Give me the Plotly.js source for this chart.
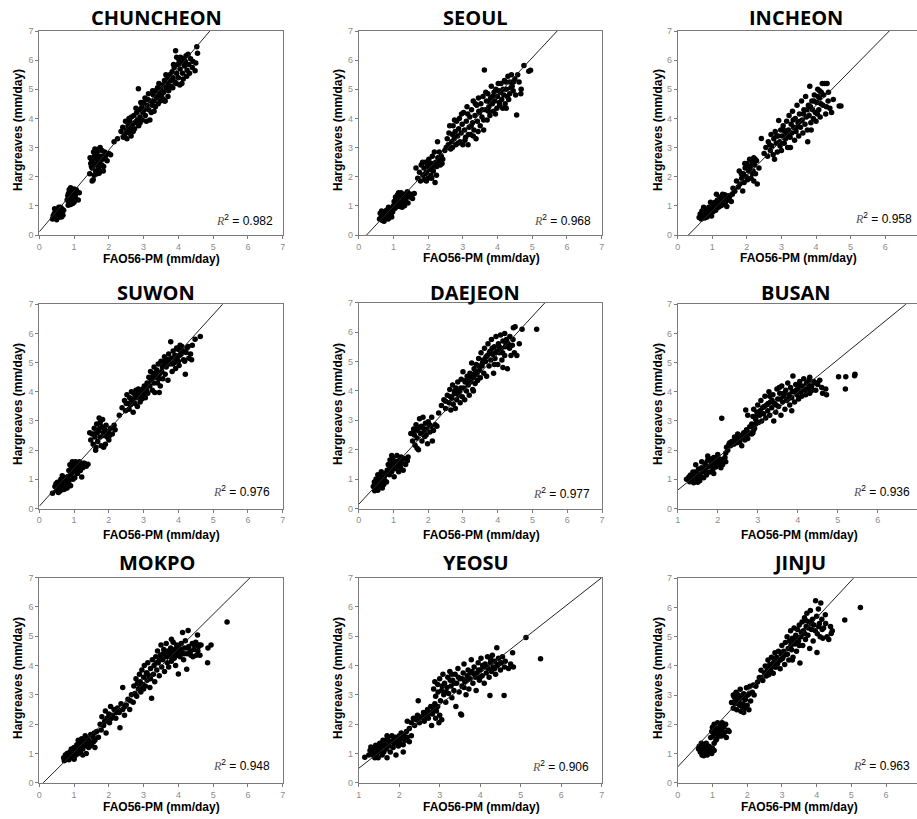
<!DOCTYPE html>
<html>
<head>
<meta charset="utf-8">
<script src="https://cdn.plot.ly/plotly-3.0.1.min.js"></script>
<style>html,body{margin:0;padding:0;background:#fff;}#chart{width:917px;height:819px;}</style>
</head>
<body>
<div id="chart"></div>
<script>
// ---------------- DATA ----------------
const stations = ['CHUNCHEON','SEOUL','INCHEON','SUWON','DAEJEON','BUSAN','MOKPO','YEOSU','JINJU'];
const r2Values = ['0.982','0.968','0.958','0.976','0.977','0.936','0.948','0.906','0.963'];
const fitSlopes = [1.405, 1.275, 1.205, 1.313, 1.28, 1.118, 1.177, 1.085, 1.277];
const fitIntercepts = [0.11, -0.29, -0.373, 0.08, 0.14, -0.49, -0.135, -0.595, 0.54];
const xAxisTitle = 'FAO56-PM (mm/day)';
const yAxisTitle = 'Hargreaves (mm/day)';

const chuncheonPts = [[0.38,0.55],[0.42,0.62],[0.45,0.58],[0.48,0.7],[0.5,0.65],[0.52,0.78],[0.55,0.72],[0.57,0.85],[0.6,0.7],[0.62,0.8],[0.65,0.9],[0.47,0.82],[0.53,0.6],[0.58,0.62],[0.66,0.75],[0.7,0.85],[0.43,0.74],[0.61,0.95],[0.68,0.68],[0.4,0.66],
[0.8,1.2],[0.82,1.35],[0.85,1.1],[0.87,1.45],[0.88,1.28],[0.9,1.05],[0.92,1.38],[0.93,1.52],[0.95,1.2],[0.97,1.32],[0.98,1.45],[1.0,1.12],[1.02,1.3],[1.04,1.4],[0.86,1.55],[0.9,1.62],[1.0,1.58],[1.05,1.25],[1.15,1.45],[0.83,1.02],[1.08,1.5],
[1.45,2.1],[1.48,2.45],[1.5,2.6],[1.52,2.3],[1.55,2.55],[1.55,1.9],[1.58,2.7],[1.6,2.4],[1.6,2.95],[1.62,2.2],[1.64,2.6],[1.66,2.8],[1.68,2.45],[1.7,2.3],[1.7,2.65],[1.72,2.95],[1.74,2.5],[1.76,2.2],[1.78,2.7],[1.8,2.4],[1.82,2.6],[1.85,2.35],[1.52,1.85],[1.58,2.05],[1.66,2.1],[1.9,2.7],[1.95,2.55],[2.0,2.8],[2.05,2.75],[1.88,2.85],[2.15,3.2],[1.75,3.0],
[2.25,3.3],[2.35,3.55],[2.4,3.7],[2.45,3.45],[2.48,3.9],[2.5,3.6],[2.55,3.75],[2.58,3.5],[2.6,3.9],[2.62,3.65],[2.65,4.05],[2.68,3.8],[2.7,3.55],[2.72,4.1],[2.75,3.85],
[2.8,4.2],[2.82,3.95],[2.85,5.02],[2.88,4.3],[2.9,4.05],[2.95,4.4],[2.98,4.2],[3.0,4.55],[3.02,4.3],[3.05,4.1],[3.1,4.45],[3.12,4.65],[3.15,4.3],[3.18,3.95],[3.2,4.6],[3.25,4.45],[3.28,4.8],
[3.3,4.6],[3.35,4.95],[3.38,4.7],[3.4,5.05],[3.42,4.5],[3.45,4.85],[3.5,5.0],[3.52,4.75],[3.55,5.15],[3.58,4.9],[3.6,5.3],[3.62,4.6],[3.65,5.05],[3.68,5.4],[3.7,5.2],[3.72,4.95],[3.75,5.5],[3.78,5.3],
[3.8,5.1],[3.82,5.6],[3.85,5.4],[3.88,5.75],[3.9,5.25],[3.92,6.32],[3.95,5.55],[3.98,5.85],[4.0,5.4],[4.02,6.0],[4.05,5.7],[4.08,5.9],[4.1,5.2],[4.12,5.55],[4.15,6.05],[4.18,5.8],[4.2,5.95],[4.25,5.65],[4.3,5.85],[4.35,6.05],[4.4,5.75],[4.48,5.64],[4.53,6.46],[4.55,6.24],[3.95,6.1],[4.22,6.15],[3.3,4.25],[3.6,4.6],[2.9,3.85],
[2.42,3.35],[2.52,3.3],[2.58,4.0],[2.64,3.4],[2.74,3.65],[2.78,4.35],[2.86,3.75],[2.92,4.55],[2.96,3.95],[3.04,4.7],[3.08,3.9],[3.14,4.85],[3.22,4.2],[3.26,4.95],[3.34,4.4],[3.4,4.75],[3.44,5.2],[3.48,4.6],[3.56,4.65],[3.64,5.5],[3.7,4.75],[3.76,5.05],[3.84,5.05],[3.86,5.85],[3.94,5.2],[4.04,5.15],[4.06,6.1],[4.14,5.35],[4.24,5.45],[4.28,6.2],[4.32,5.55],[4.42,5.95],[4.5,5.9],[0.44,0.9],[0.56,0.95],[0.64,0.62],[0.5,0.52],[0.84,1.42],[0.96,1.08],[1.06,1.55],[1.12,1.2],[1.56,2.85],[1.62,2.65],[1.68,2.9],[1.72,2.12],[1.8,2.9],[1.84,2.2],[1.5,2.35],[1.46,2.65]];

const seoulPts = [[0.6,0.55],[0.62,0.75],[0.65,0.62],[0.68,0.5],[0.7,0.68],[0.72,0.8],[0.75,0.58],[0.78,0.72],[0.8,0.85],[0.82,0.65],[0.85,0.55],[0.88,0.78],[0.9,0.7],[0.92,0.88],[0.95,0.62],[0.98,0.8],[0.73,0.47],[0.86,0.95],[0.66,0.82],
[1.0,1.0],[1.02,1.15],[1.05,0.92],[1.08,1.25],[1.1,1.05],[1.12,1.38],[1.15,1.15],[1.18,0.98],[1.2,1.3],[1.22,1.45],[1.25,1.1],[1.28,1.25],[1.3,1.4],[1.32,1.0],[1.35,1.2],[1.38,1.35],[1.4,1.48],[1.42,1.1],[1.45,1.3],[1.5,1.4],[1.55,1.25],[1.6,1.42],[1.15,1.45],[1.25,0.95],
[1.65,2.3],[1.7,1.95],[1.75,2.15],[1.78,1.85],[1.8,2.4],[1.85,2.05],[1.88,2.3],[1.9,1.9],[1.92,2.5],[1.95,2.15],[1.98,2.35],[2.0,1.95],[2.02,2.6],[2.05,2.25],[2.08,2.05],[2.1,2.45],[2.12,2.7],[2.15,2.2],[2.18,2.85],[2.2,1.8],[2.22,2.5],[2.25,2.35],[2.28,2.65],[2.3,2.55],[2.35,2.4],[2.38,2.7],[2.42,2.6],[2.48,2.9],[2.27,3.2],[1.95,1.85],[2.1,1.95],
[2.52,3.0],[2.55,3.3],[2.6,3.5],[2.65,2.95],[2.68,3.2],[2.7,3.45],[2.72,3.75],[2.75,3.3],[2.78,3.55],[2.8,3.1],[2.82,3.9],[2.85,3.4],[2.88,3.65],[2.9,4.0],[2.92,3.2],[2.95,3.5],[2.98,3.8],[2.7,3.0],
[3.0,3.1],[3.02,4.2],[3.05,3.6],[3.08,3.35],[3.1,3.9],[3.12,4.4],[3.15,3.1],[3.18,3.7],[3.2,4.05],[3.22,3.45],[3.25,4.3],[3.28,3.85],[3.3,4.6],[3.32,3.6],[3.35,4.1],[3.38,3.3],[3.4,4.45],[3.42,3.9],[3.45,4.7],[3.48,4.2],[3.5,3.75],
[3.52,4.5],[3.55,4.05],[3.58,4.75],[3.6,3.6],[3.62,5.66],[3.65,4.3],[3.68,4.6],[3.7,3.95],[3.72,4.85],[3.75,4.4],[3.78,4.1],[3.8,4.7],[3.82,5.1],[3.85,4.5],[3.88,4.25],[3.9,4.9],[3.92,4.6],[3.95,5.0],[3.98,4.35],[4.0,4.75],[4.02,5.2],[4.05,4.55],[4.08,4.9],
[4.1,5.2],[4.12,4.65],[4.15,4.35],[4.18,4.8],[4.2,5.3],[4.22,4.5],[4.25,5.0],[4.28,4.75],[4.3,5.45],[4.35,4.85],[4.4,5.5],[4.42,5.1],[4.45,4.95],[4.5,5.35],[4.55,4.12],[4.58,5.5],[4.62,5.25],[4.67,4.85],[4.68,5.0],[4.76,5.82],[4.9,5.62],[4.95,5.65],[4.35,5.25],[4.25,4.35],
[2.58,3.1],[2.62,3.75],[2.76,3.95],[2.86,3.15],[2.96,4.15],[3.06,3.25],[3.14,4.15],[3.16,3.45],[3.24,3.75],[3.3,3.4],[3.36,4.5],[3.44,3.55],[3.46,4.25],[3.56,4.3],[3.6,3.95],[3.66,4.9],[3.74,4.25],[3.78,4.55],[3.86,4.75],[3.94,4.15],[4.04,4.95],[4.06,4.45],[4.16,5.0],[4.24,5.25],[4.32,4.65],[4.38,5.05],[4.46,5.25],[4.52,4.8],[0.7,0.6],[0.8,0.6],[0.94,0.75],[1.06,1.3],[1.14,1.0],[1.24,1.4],[1.34,1.1],[1.44,1.42],[1.84,2.5],[1.92,2.1],[2.04,2.45],[2.14,2.35],[2.24,2.05],[2.32,2.85],[2.4,2.45]];

const incheonPts = [[0.62,0.6],[0.65,0.72],[0.68,0.55],[0.7,0.82],[0.72,0.65],[0.75,0.75],[0.78,0.58],[0.8,0.88],[0.82,0.7],[0.85,0.62],[0.88,0.8],[0.9,0.95],[0.92,0.72],[0.95,0.85],[0.98,0.65],[1.0,1.0],[1.02,0.8],[1.05,0.92],[1.08,1.12],[1.1,0.85],[1.12,1.05],[1.15,1.2],[1.18,0.95],[1.2,1.1],[1.22,1.3],[1.25,1.0],[1.28,1.18],[1.3,1.4],[1.32,1.05],[1.35,1.25],[1.38,1.12],[1.4,1.32],[1.42,0.98],[1.45,1.2],[1.5,1.3],[1.55,1.15],[1.58,1.4],[0.95,1.12],[0.75,0.95],[1.12,1.4],
[1.6,1.6],[1.65,1.5],[1.7,1.85],[1.75,1.65],[1.78,2.2],[1.8,1.75],[1.85,1.95],[1.88,1.51],[1.9,2.1],[1.92,1.8],[1.95,2.3],[1.98,2.0],[2.0,2.45],[2.02,1.9],[2.05,2.2],[2.08,2.6],[2.1,2.35],[2.12,1.95],[2.15,2.5],[2.18,2.2],[2.2,1.85],[2.22,2.4],[2.25,2.1],[2.28,2.55],[2.3,1.75],[2.2,2.65],[2.35,2.3],
[2.42,3.31],[2.5,2.8],[2.55,3.0],[2.6,2.7],[2.62,3.2],[2.68,2.9],[2.7,3.45],[2.72,3.05],[2.78,3.3],[2.8,2.6],[2.82,3.55],[2.85,3.15],[2.88,2.85],[2.9,3.4],[2.92,3.93],[2.95,3.2],[2.98,3.6],
[3.0,2.9],[3.02,3.4],[3.05,3.75],[3.08,3.15],[3.1,3.55],[3.12,3.3],[3.15,3.9],[3.18,3.0],[3.2,3.6],[3.22,4.1],[3.25,3.35],[3.28,3.8],[3.3,3.5],[3.32,4.25],[3.35,3.7],[3.38,3.25],[3.4,4.0],[3.42,3.55],[3.45,4.45],[3.48,3.85],[3.5,3.4],[3.52,4.15],[3.55,3.7],[3.58,4.6],
[3.6,3.95],[3.62,3.5],[3.65,4.3],[3.68,3.8],[3.7,4.75],[3.72,4.05],[3.75,3.6],[3.76,3.2],[3.78,4.45],[3.8,4.1],[3.82,5.1],[3.85,3.85],[3.88,4.6],[3.9,4.3],[3.92,4.0],[3.95,4.8],[3.98,4.2],[4.0,3.9],[4.02,4.55],[4.05,5.0],[4.08,4.3],[4.1,4.7],[4.12,4.05],[4.15,4.9],[4.2,4.45],[4.25,5.2],[4.28,4.15],[4.32,5.2],[4.35,4.6],[4.4,4.35],[4.5,4.65],[4.67,4.43],[4.72,4.43],
[0.7,0.62],[0.78,0.8],[0.86,0.72],[0.96,0.95],[1.04,1.05],[1.14,0.98],[1.26,1.3],[1.36,1.38],[1.46,1.35],[1.84,2.1],[1.94,2.45],[2.06,2.3],[2.16,2.1],[2.24,2.6],[2.66,3.1],[2.76,2.75],[2.86,3.4],[2.96,3.05],[3.06,3.6],[3.16,3.45],[3.26,3.0],[3.34,3.95],[3.44,3.7],[3.54,3.9],[3.64,4.15],[3.74,4.3],[3.84,4.4],[3.86,3.6],[3.94,4.6],[4.04,4.15],[4.06,4.75],[4.14,4.5],[4.18,5.2],[4.22,4.8],[4.3,4.4],[4.36,4.9],[4.45,4.2],[4.1,4.95]];

const suwonPts = [[0.38,0.52],[0.45,0.75],[0.5,0.62],[0.52,0.9],[0.55,0.7],[0.58,0.82],[0.6,0.6],[0.62,1.0],[0.65,0.75],[0.68,0.88],[0.7,0.65],[0.72,1.05],[0.75,0.8],[0.78,0.95],[0.8,0.7],[0.82,1.1],[0.85,0.85],[0.88,1.0],[0.9,0.78],[0.55,0.55],[0.48,0.85],[0.66,1.12],[0.92,1.2],
[0.85,1.3],[0.88,1.5],[0.9,1.15],[0.92,1.4],[0.95,1.6],[0.98,1.25],[1.0,1.45],[1.02,1.05],[1.04,1.6],[1.06,1.35],[1.08,1.55],[1.1,1.2],[1.12,1.42],[1.15,1.6],[1.18,1.3],[1.2,1.5],[1.22,1.08],[1.25,1.4],[1.3,1.55],[1.35,1.45],[1.4,1.52],[0.97,1.0],[1.05,1.25],
[1.45,2.6],[1.48,2.35],[1.52,2.55],[1.55,2.2],[1.58,2.75],[1.6,2.45],[1.62,2.0],[1.65,2.9],[1.68,2.3],[1.7,2.65],[1.72,3.1],[1.75,2.45],[1.78,2.15],[1.8,2.8],[1.82,3.05],[1.85,2.5],[1.88,2.7],[1.9,2.2],[1.92,2.85],[1.95,2.45],[1.98,2.65],[2.0,2.35],[2.05,2.75],[2.1,2.55],[2.15,2.85],[2.18,2.7],[1.63,2.1],[1.85,2.1],[1.75,2.95],
[2.3,3.2],[2.38,3.45],[2.45,3.7],[2.48,3.35],[2.52,3.9],[2.55,3.6],[2.58,3.4],[2.6,3.8],[2.62,3.55],[2.65,4.0],[2.68,3.7],[2.7,3.3],[2.72,3.95],[2.75,3.6],[2.78,4.05],[2.8,3.8],[2.82,3.5],[2.85,4.1],[2.88,3.85],[2.9,3.65],[2.92,4.0],[2.95,3.75],[2.98,4.1],
[3.0,3.9],[3.02,4.2],[3.05,3.8],[3.08,4.05],[3.1,4.3],[3.12,3.95],[3.15,4.5],[3.18,4.2],[3.2,4.7],[3.22,4.4],[3.25,4.05],[3.28,4.6],[3.3,4.85],[3.32,3.98],[3.35,4.5],[3.38,4.75],[3.4,4.3],[3.42,4.95],[3.45,4.6],[3.48,4.2],[3.5,5.05],[3.52,4.7],[3.55,4.45],[3.58,4.9],
[3.6,5.2],[3.62,4.6],[3.65,4.85],[3.68,5.1],[3.7,4.4],[3.72,5.3],[3.75,4.95],[3.78,5.72],[3.8,5.15],[3.82,4.7],[3.85,5.4],[3.88,5.0],[3.9,5.25],[3.92,4.8],[3.95,5.5],[3.98,5.2],[4.0,5.45],[4.02,4.9],[4.05,5.6],[4.08,5.3],[4.1,5.55],[4.15,5.1],[4.2,4.6],[4.22,5.35],[4.25,5.5],[4.3,5.15],[4.35,5.3],[4.4,5.6],[4.48,5.8],[4.63,5.9],[3.45,3.98],[4.0,5.05],
[0.58,0.7],[0.64,0.9],[0.74,0.68],[0.84,0.95],[0.94,1.5],[1.0,1.3],[1.08,1.45],[1.14,1.3],[1.26,1.55],[1.58,2.55],[1.66,2.6],[1.74,2.75],[1.84,2.6],[1.94,2.6],[2.02,2.5],[2.5,3.6],[2.64,3.75],[2.76,3.85],[2.86,3.95],[2.96,3.95],[3.06,4.1],[3.14,4.25],[3.24,4.5],[3.34,4.65],[3.44,4.45],[3.54,4.85],[3.64,4.95],[3.74,5.1],[3.84,4.95],[3.94,5.1],[4.04,5.25],[4.12,5.4],[4.18,5.05],[4.28,5.55],[4.38,5.1],[3.62,5.05],[3.3,4.3]];

const daejeonPts = [[0.42,0.75],[0.45,0.9],[0.48,0.68],[0.5,1.0],[0.52,0.82],[0.55,0.62],[0.58,0.95],[0.6,0.75],[0.62,1.1],[0.65,0.88],[0.68,0.7],[0.7,1.05],[0.72,0.82],[0.75,0.95],[0.78,1.2],[0.8,0.9],[0.55,1.15],[0.65,1.25],[0.46,0.6],
[0.82,1.3],[0.85,1.5],[0.88,1.15],[0.9,1.65],[0.92,1.4],[0.95,1.25],[0.98,1.7],[1.0,1.5],[1.02,1.08],[1.05,1.35],[1.08,1.6],[1.1,1.8],[1.12,1.45],[1.15,1.25],[1.18,1.65],[1.2,1.4],[1.22,1.75],[1.25,1.55],[1.28,1.3],[1.3,1.7],[1.35,1.5],[1.4,1.62],[1.42,1.75],[0.95,1.8],
[1.5,2.55],[1.55,2.3],[1.58,2.7],[1.6,2.5],[1.62,2.15],[1.65,2.85],[1.68,2.4],[1.7,2.65],[1.72,2.0],[1.75,3.05],[1.78,2.55],[1.8,2.8],[1.82,2.3],[1.85,3.1],[1.88,2.6],[1.9,2.45],[1.92,2.9],[1.95,2.7],[1.98,2.2],[2.0,2.95],[2.05,2.6],[2.08,2.8],[2.1,3.1],[2.12,2.3],[2.15,2.65],[2.2,2.85],[2.25,2.8],[1.68,2.05],
[2.3,3.25],[2.38,3.5],[2.45,3.7],[2.5,3.4],[2.55,3.85],[2.6,3.6],[2.62,4.05],[2.65,3.35],[2.68,3.75],[2.7,4.2],[2.72,3.55],[2.75,3.9],[2.78,3.4],[2.8,4.1],[2.82,3.7],[2.85,4.3],[2.88,3.85],[2.9,4.0],[2.92,3.6],[2.95,4.4],[2.98,3.8],[3.0,4.65],
[3.02,4.1],[3.05,3.7],[3.08,4.35],[3.1,4.0],[3.12,4.5],[3.15,4.2],[3.18,3.85],[3.2,4.6],[3.22,4.3],[3.25,4.95],[3.28,4.05],[3.3,4.45],[3.32,4.75],[3.35,4.25],[3.38,4.9],[3.4,4.55],[3.42,4.35],[3.45,5.1],[3.48,4.7],[3.5,4.45],[3.52,5.3],[3.55,4.85],[3.58,5.05],[3.6,4.6],[3.62,5.45],[3.65,5.0],[3.68,4.5],
[3.7,5.2],[3.72,5.6],[3.75,4.85],[3.78,5.35],[3.8,5.05],[3.82,5.75],[3.85,5.25],[3.88,4.6],[3.9,5.5],[3.92,5.1],[3.95,5.85],[3.98,5.35],[4.0,4.9],[4.02,5.6],[4.05,5.3],[4.08,5.9],[4.1,5.45],[4.12,5.05],[4.15,5.7],[4.2,5.95],[4.22,5.5],[4.25,5.75],[4.28,4.75],[4.3,5.6],[4.35,5.85],[4.38,5.2],[4.42,5.55],[4.45,6.15],[4.48,5.3],[4.5,6.18],[4.55,5.2],[4.62,5.6],[4.7,6.1],[5.12,6.1],[4.15,4.8],[3.3,4.0],
[0.52,0.75],[0.6,0.9],[0.68,0.95],[0.74,1.1],[0.88,1.45],[0.96,1.55],[1.04,1.6],[1.14,1.55],[1.24,1.65],[1.6,2.65],[1.72,2.75],[1.84,2.75],[1.94,2.5],[2.04,2.85],[2.5,3.65],[2.64,3.8],[2.76,4.0],[2.86,3.9],[2.94,4.1],[3.06,4.3],[3.16,4.45],[3.26,4.55],[3.36,4.65],[3.46,4.85],[3.56,4.95],[3.66,5.15],[3.76,5.3],[3.84,5.45],[3.94,5.3],[4.04,5.5],[4.14,5.3],[4.24,5.6],[4.34,5.45],[4.44,5.75],[4.2,5.2],[3.9,4.9]];

const busanPts = [[1.22,1.0],[1.28,1.08],[1.3,0.92],[1.32,1.15],[1.35,1.02],[1.38,1.25],[1.4,0.88],[1.42,1.12],[1.45,1.5],[1.48,1.0],[1.5,1.2],[1.52,1.35],[1.55,0.95],[1.58,1.1],[1.6,1.4],[1.62,1.25],[1.65,1.05],[1.68,1.55],[1.7,1.3],[1.72,1.15],[1.75,1.65],[1.78,1.45],[1.8,1.25],[1.82,1.7],[1.85,1.5],[1.88,1.35],[1.9,1.75],[1.92,1.58],[1.95,1.42],[1.98,1.65],[2.0,1.5],[2.02,1.72],[2.05,1.55],[2.08,1.4],[2.1,1.68],[2.12,1.5],[2.15,1.62],[2.18,1.75],[2.2,1.6],[1.75,1.8],[1.6,1.6],[1.5,0.9],[2.0,1.85],[1.9,1.2],
[2.2,1.9],[2.22,2.1],[2.25,2.0],[2.28,2.2],[2.32,2.15],[2.35,2.3],[2.4,2.2],[2.42,2.45],[2.45,2.35],[2.48,2.25],[2.5,2.55],[2.52,2.4],[2.55,2.3],[2.58,2.5],[2.6,2.15],[2.62,2.45],[2.65,2.6],[2.68,2.35],[2.7,2.5],[2.72,2.7],[2.75,2.4],[2.78,2.6],[2.8,2.8],[2.85,2.55],[2.9,2.7],[2.95,2.9],[2.1,3.09],[2.7,3.38],[2.75,3.2],
[2.85,2.9],[2.88,3.15],[2.9,3.4],[2.92,2.75],[2.95,3.05],[2.98,3.3],[3.0,3.55],[3.02,2.95],[3.05,3.2],[3.08,3.7],[3.1,3.0],[3.12,3.45],[3.15,3.25],[3.18,3.85],[3.2,3.1],[3.22,3.55],[3.25,3.35],[3.28,4.0],[3.3,3.2],[3.32,3.65],[3.35,3.45],[3.38,3.9],
[3.4,3.0],[3.42,3.6],[3.45,3.3],[3.48,4.1],[3.5,3.75],[3.52,3.5],[3.55,3.95],[3.58,3.2],[3.6,4.2],[3.62,3.65],[3.65,3.85],[3.68,3.4],[3.7,4.05],[3.72,3.7],[3.75,4.3],[3.78,3.9],[3.8,3.55],[3.82,4.15],[3.85,3.8],[3.88,4.54],[3.9,4.0],[3.92,3.65],[3.95,4.25],[3.98,3.9],[3.85,3.35],
[4.0,4.1],[4.02,3.75],[4.05,4.35],[4.08,4.0],[4.1,3.85],[4.12,4.2],[4.15,4.45],[4.18,4.05],[4.2,3.9],[4.22,4.3],[4.25,4.1],[4.28,4.4],[4.3,3.95],[4.35,4.2],[4.4,4.35],[4.45,4.05],[4.5,4.25],[4.55,4.4],[4.6,4.15],[4.62,3.95],[4.7,4.1],[4.72,3.9],[4.3,4.5],[5.02,4.52],[5.19,4.1],[5.2,4.52],[5.43,4.6],[5.42,4.55],
[1.36,1.1],[1.44,1.25],[1.54,1.15],[1.64,1.35],[1.74,1.45],[1.84,1.6],[1.94,1.55],[2.04,1.62],[1.7,1.45],[2.3,2.25],[2.44,2.3],[2.56,2.4],[2.66,2.45],[2.76,2.55],[2.88,2.6],[2.96,3.15],[3.06,3.35],[3.16,3.5],[3.26,3.6],[3.36,3.7],[3.46,3.55],[3.56,3.75],[3.66,3.95],[3.76,3.75],[3.86,4.0],[3.96,4.05],[4.06,4.2],[4.16,4.1],[4.26,4.25],[4.36,4.05],[4.46,4.3],[3.3,3.85],[3.54,4.15],[3.0,3.25]];

const mokpoPts = [[0.7,0.85],[0.72,0.75],[0.75,0.95],[0.78,0.8],[0.8,1.0],[0.82,0.88],[0.85,0.78],[0.88,1.05],[0.9,0.92],[0.92,1.15],[0.95,0.85],[0.98,1.0],[1.0,1.2],[1.02,0.9],[1.05,1.1],[1.08,1.3],[1.1,0.98],[1.12,1.45],[1.15,1.2],[1.18,1.05],[1.2,1.35],[1.22,1.5],[1.25,1.15],[1.28,1.4],[1.3,1.25],[1.32,1.6],[1.35,1.0],[1.38,1.35],[1.4,1.5],[1.42,1.2],[1.45,1.4],[1.48,1.65],[1.5,1.3],[1.55,1.55],[1.58,1.7],[1.6,1.45],[1.0,0.8],[1.25,0.95],[1.6,1.2],
[1.65,1.75],[1.7,1.55],[1.75,2.0],[1.78,1.8],[1.8,2.25],[1.85,1.95],[1.88,2.1],[1.9,2.45],[1.92,1.7],[1.95,2.2],[2.0,2.35],[2.02,2.05],[2.05,2.6],[2.1,2.3],[2.15,2.5],[2.2,2.2],[2.25,2.55],[2.3,2.4],[2.32,1.88],[2.35,2.7],[2.4,2.5],[2.45,2.3],[2.5,2.65],[2.55,2.85],[2.6,2.5],[2.65,3.0],[2.7,2.75],[2.4,3.25],
[2.72,3.3],[2.75,3.05],[2.78,3.55],[2.8,2.95],[2.82,3.4],[2.85,3.2],[2.88,3.7],[2.9,3.45],[2.92,3.1],[2.95,3.85],[2.98,3.35],[3.0,3.6],[3.02,4.0],[3.05,3.3],[3.08,3.75],[3.1,3.5],[3.12,4.1],[3.15,3.65],[3.18,3.25],[3.2,3.9],[3.23,2.88],[3.25,4.2],[3.28,3.7],
[3.3,4.0],[3.32,3.45],[3.35,4.3],[3.38,3.85],[3.4,4.5],[3.42,4.1],[3.45,3.65],[3.48,4.35],[3.5,4.7],[3.52,3.95],[3.55,4.2],[3.58,4.55],[3.6,3.8],[3.62,4.4],[3.65,4.75],[3.68,4.1],[3.7,4.5],[3.72,3.95],[3.75,4.3],[3.78,4.6],[3.8,4.15],[3.82,4.45],[3.85,4.8],[3.88,4.25],[3.9,4.55],[3.92,4.0],[3.95,4.7],[3.98,4.35],
[4.0,3.71],[4.02,4.6],[4.05,4.3],[4.08,4.75],[4.1,4.45],[4.12,5.13],[4.15,4.2],[4.18,4.6],[4.2,4.85],[4.24,3.87],[4.25,4.4],[4.3,4.65],[4.35,4.5],[4.4,4.75],[4.42,4.3],[4.45,4.55],[4.5,4.8],[4.52,4.35],[4.55,5.04],[4.58,4.65],[4.6,4.7],[4.62,4.35],[4.65,4.7],[4.84,4.1],[4.85,4.6],[4.94,4.7],[5.4,5.49],[4.28,5.2],
[0.86,0.95],[0.96,1.05],[1.06,1.0],[1.16,1.3],[1.26,1.3],[1.36,1.45],[1.46,1.25],[1.56,1.4],[1.9,2.1],[2.08,2.2],[2.22,2.4],[2.46,2.6],[2.62,2.8],[2.9,3.3],[3.0,3.2],[3.1,3.75],[3.2,3.55],[3.36,4.1],[3.46,4.2],[3.56,4.4],[3.66,4.3],[3.76,4.45],[3.86,4.4],[3.96,4.5],[4.06,4.55],[4.16,4.4],[4.26,4.6],[4.36,4.35],[4.46,4.7],[4.56,4.5],[3.8,4.9],[3.5,4.3]];

const yeosuPts = [[1.15,0.87],[1.25,0.95],[1.28,1.1],[1.3,1.22],[1.32,0.98],[1.35,1.05],[1.38,0.9],[1.4,1.15],[1.42,1.28],[1.45,1.0],[1.48,0.85],[1.5,1.1],[1.52,1.35],[1.55,1.2],[1.58,0.95],[1.6,1.45],[1.62,1.05],[1.65,1.3],[1.68,1.15],[1.7,0.85],[1.72,1.5],[1.75,1.25],[1.78,1.05],[1.8,1.4],[1.82,1.6],[1.85,1.2],[1.88,1.35],[1.9,1.55],[1.92,0.95],[1.95,1.45],[1.98,1.25],[2.0,1.6],[2.02,1.35],[2.05,1.7],[2.08,1.5],[2.1,1.3],[2.12,1.6],[2.15,1.45],[2.18,1.75],[2.2,1.55],[2.25,1.4],[2.3,1.6],[2.1,1.05],[1.7,1.6],[1.4,0.85],
[2.25,1.85],[2.3,2.05],[2.35,2.2],[2.38,1.95],[2.42,2.15],[2.45,2.3],[2.47,2.8],[2.5,2.05],[2.55,2.25],[2.6,2.4],[2.62,2.1],[2.65,2.3],[2.7,2.5],[2.72,2.2],[2.75,2.4],[2.78,2.6],[2.8,1.95],[2.82,2.35],[2.85,2.55],[2.88,2.7],[2.9,2.2],[2.92,2.45],[2.95,2.6],[2.98,2.05],[3.0,2.3],[3.05,2.15],[2.2,2.1],
[2.85,3.2],[2.88,3.45],[2.9,2.95],[2.95,3.35],[3.0,3.55],[3.02,2.8],[3.05,3.15],[3.08,3.7],[3.1,3.0],[3.12,3.4],[3.15,2.75],[3.18,3.25],[3.2,3.6],[3.22,3.05],[3.25,3.8],[3.28,3.3],[3.3,2.9],[3.32,3.5],[3.35,3.15],[3.38,3.7],[3.4,2.6],[3.42,3.4],[3.45,3.9],[3.48,3.1],[3.5,3.55],[3.52,2.35],[3.54,2.31],
[3.55,3.3],[3.58,3.75],[3.6,4.05],[3.62,3.45],[3.65,3.0],[3.68,3.65],[3.7,3.85],[3.72,3.2],[3.75,3.55],[3.78,4.2],[3.8,3.8],[3.82,3.4],[3.85,3.95],[3.88,3.6],[3.9,3.15],[3.92,3.75],[3.95,4.1],[3.98,3.5],[4.0,3.85],[4.02,4.25],[4.05,3.65],[4.08,3.95],[4.1,3.4],[4.12,4.05],[4.15,3.75],[4.18,4.3],
[4.2,3.9],[4.22,3.6],[4.24,2.98],[4.25,4.1],[4.28,3.8],[4.3,4.35],[4.32,3.95],[4.35,4.15],[4.38,3.7],[4.41,4.61],[4.42,4.0],[4.45,4.25],[4.5,3.85],[4.52,4.1],[4.55,4.3],[4.59,2.98],[4.6,3.95],[4.62,4.15],[4.7,3.9],[4.75,4.05],[4.8,4.44],[4.82,3.95],[5.13,4.96],[5.49,4.23],
[1.36,1.15],[1.46,1.2],[1.56,1.05],[1.66,1.45],[1.76,1.4],[1.86,1.45],[1.96,1.35],[2.06,1.5],[1.6,1.25],[2.5,2.2],[2.6,2.2],[2.7,2.35],[2.84,2.45],[2.96,3.1],[3.06,3.3],[3.16,3.1],[3.26,3.5],[3.36,3.4],[3.46,3.6],[3.56,3.55],[3.66,3.5],[3.76,3.75],[3.86,3.7],[3.96,3.85],[4.06,4.0],[4.16,3.95],[4.26,4.2],[4.36,3.9],[4.46,4.05],[3.6,3.25],[3.3,3.7],[4.0,3.6]];

const jinjuPts = [[0.6,1.15],[0.62,1.25],[0.65,1.05],[0.68,1.2],[0.7,0.95],[0.72,1.3],[0.75,1.1],[0.78,1.22],[0.8,1.0],[0.82,1.35],[0.85,1.15],[0.88,1.05],[0.9,1.25],[0.92,1.12],[0.95,1.2],[0.98,1.0],[1.0,1.18],[0.75,0.92],[0.85,0.95],[1.05,1.1],[0.68,1.35],
[0.95,1.55],[0.98,1.75],[1.0,1.9],[1.02,1.6],[1.05,2.0],[1.08,1.7],[1.1,1.85],[1.12,1.5],[1.15,2.05],[1.18,1.75],[1.2,1.6],[1.22,1.95],[1.25,1.8],[1.28,2.05],[1.3,1.65],[1.32,1.9],[1.35,1.72],[1.38,2.0],[1.4,1.55],[1.45,1.8],[1.48,1.75],[1.1,1.45],[1.05,1.35],
[1.55,2.75],[1.6,2.55],[1.62,2.95],[1.65,2.7],[1.68,3.1],[1.7,2.5],[1.72,2.85],[1.75,3.0],[1.78,2.65],[1.8,3.2],[1.82,2.45],[1.85,2.9],[1.88,2.7],[1.9,3.05],[1.92,2.55],[1.95,2.85],[1.98,3.25],[2.0,2.65],[2.02,3.0],[2.05,2.5],[2.08,3.3],[2.1,2.8],[2.15,3.1],[2.18,3.35],[2.2,3.0],[2.25,3.3],[1.6,3.0],[1.9,2.4],
[2.3,3.45],[2.35,3.6],[2.4,3.85],[2.45,3.5],[2.5,3.75],[2.52,4.0],[2.55,3.65],[2.58,3.9],[2.6,4.2],[2.62,3.7],[2.65,4.05],[2.68,3.85],[2.7,4.3],[2.72,4.0],[2.75,3.75],[2.78,4.2],[2.8,4.45],[2.82,3.95],[2.85,4.3],[2.88,4.1],[2.9,4.5],[2.92,4.2],[2.95,3.9],[2.98,4.4],
[3.0,4.7],[3.02,4.25],[3.05,4.5],[3.08,4.05],[3.1,4.8],[3.12,4.4],[3.15,5.0],[3.18,4.6],[3.2,4.2],[3.22,4.85],[3.25,5.2],[3.28,4.55],[3.3,4.95],[3.32,4.3],[3.35,5.3],[3.38,4.75],[3.4,5.05],[3.42,4.5],[3.45,5.25],[3.48,4.85],[3.5,5.4],[3.52,4.1],[3.55,5.0],[3.58,5.5],
[3.6,4.7],[3.62,5.2],[3.65,5.65],[3.68,4.9],[3.7,5.35],[3.72,5.8],[3.75,5.05],[3.78,5.5],[3.8,4.6],[3.82,5.9],[3.85,5.25],[3.88,5.6],[3.9,4.85],[3.92,5.4],[3.97,6.23],[4.0,5.7],[4.02,5.1],[4.01,4.46],[4.05,5.95],[4.08,5.45],[4.1,5.0],[4.12,6.15],[4.15,5.6],[4.18,4.95],[4.2,5.3],[4.25,5.75],[4.3,5.0],[4.35,4.9],[4.4,5.35],[4.42,5.11],[4.45,5.2],[4.81,5.57],[5.26,6.0],[3.3,4.2],
[0.66,1.15],[0.76,1.25],[0.86,1.25],[0.94,1.05],[1.06,1.8],[1.16,1.85],[1.26,1.6],[1.34,1.95],[1.16,1.65],[1.66,2.85],[1.76,2.8],[1.86,2.6],[1.96,2.95],[2.06,3.05],[1.8,2.95],[2.4,3.6],[2.56,3.8],[2.66,3.95],[2.76,4.1],[2.86,4.05],[2.96,4.2],[3.06,4.35],[3.16,4.4],[3.26,4.7],[3.36,4.85],[3.46,4.95],[3.56,5.15],[3.66,5.1],[3.76,5.3],[3.86,5.45],[3.96,5.2],[4.06,5.35],[4.16,5.25],[4.26,5.45],[3.5,4.7],[3.7,5.55]];

const stationPoints = [chuncheonPts, seoulPts, incheonPts, suwonPts, daejeonPts, busanPts, mokpoPts, yeosuPts, jinjuPts];

// axis ranges (the right column panels are cut at the figure's right edge)
const xRanges = [[0,7],[0,7],[0,6.92],[0,7],[0,7],[1,6.98],[0,7],[1,7],[0,6.89]];
const yRange = [0,7];
const xTickVals = [[0,1,2,3,4,5,6,7],[0,1,2,3,4,5,6,7],[0,1,2,3,4,5,6],[0,1,2,3,4,5,6,7],[0,1,2,3,4,5,6,7],[1,2,3,4,5,6],[0,1,2,3,4,5,6,7],[1,2,3,4,5,6,7],[0,1,2,3,4,5,6]];
const yTickVals = [0,1,2,3,4,5,6,7];

// ---------------- LAYOUT (pixel boxes) ----------------
const W = 917, H = 819;
const plotBoxes = [ // [left, right, top, bottom] in px
  [39.3,282.7,31,235],[358.7,601.7,31,235],[677.7,917,31,235],
  [39.3,282.7,304.3,508.5],[358.7,602,302.7,508.5],[677.7,917,304.3,508.5],
  [39.3,282.7,577.7,782.7],[358.7,601.7,577.7,782.7],[677.7,917,578.3,782.7]];
const titlePos = [[156,17],[475,17],[796,17],[156,292],[475,292],[796,292],[157,562],[476,562],[799,562]];
const xTitlePos = [[161,259],[481,258],[798,258],[161,535],[481,535],[799,535],[161,807],[481,807],[799,807]];
const yTitlePos = [[18,130],[338,130],[658,130],[18,404],[338,404],[658,404],[18,678],[338,678],[658,678]];
const r2Pos = [[275,220],[593,220],[914,218],[272,491],[592,493],[912,491],[272,765],[591,766],[912,765]];

const px = v => v / W;
const py = v => 1 - v / H;

const traces = [];
const layout = {
  width: W, height: H,
  margin: {l:0, r:0, t:0, b:0},
  paper_bgcolor: '#fff', plot_bgcolor: '#fff',
  showlegend: false,
  font: {family: 'Liberation Sans, Arial, sans-serif', color: '#000'},
  annotations: []
};

stations.forEach((name, i) => {
  const k = i === 0 ? '' : String(i + 1);
  const xa = 'x' + k, ya = 'y' + k;
  const pts = stationPoints[i];
  traces.push({
    type: 'scatter', mode: 'markers', xaxis: xa, yaxis: ya,
    x: pts.map(p => p[0]), y: pts.map(p => p[1]),
    marker: {color: '#000', size: 5.5, line: {width: 0}},
    cliponaxis: true, hoverinfo: 'skip'
  });
  const xr = xRanges[i];
  const lx = [xr[0], xr[1]];
  traces.push({
    type: 'scatter', mode: 'lines', xaxis: xa, yaxis: ya,
    x: lx, y: lx.map(v => fitSlopes[i] * v + fitIntercepts[i]),
    line: {color: '#222', width: 1}, hoverinfo: 'skip'
  });
  const b = plotBoxes[i];
  const axCommon = {
    showgrid: false, zeroline: false, showline: true, mirror: true,
    linecolor: '#7a7a7a', linewidth: 1,
    ticks: 'outside', ticklen: 3, tickwidth: 1, tickcolor: '#7a7a7a',
    tickfont: {family: 'Liberation Sans, Arial, sans-serif', size: 9, color: '#8c8c8c'},
    fixedrange: true
  };
  layout['xaxis' + k] = Object.assign({}, axCommon, {
    domain: [px(b[0]), Math.min(1, px(b[1]))], range: xr, anchor: ya,
    tickmode: 'array', tickvals: xTickVals[i], ticktext: xTickVals[i].map(String)
  });
  layout['yaxis' + k] = Object.assign({}, axCommon, {
    domain: [py(b[3]), py(b[2])], range: yRange, anchor: xa,
    tickmode: 'array', tickvals: yTickVals, ticktext: yTickVals.map(String)
  });
  layout.annotations.push({
    xref: 'paper', yref: 'paper', x: px(titlePos[i][0]), y: py(titlePos[i][1]),
    xanchor: 'center', yanchor: 'middle', showarrow: false,
    text: '<b>' + name + '</b>',
    font: {family: 'Open Sans, Noto Sans, sans-serif', size: 20, color: '#000'}
  });
  layout.annotations.push({
    xref: 'paper', yref: 'paper', x: px(xTitlePos[i][0]), y: py(xTitlePos[i][1]),
    xanchor: 'center', yanchor: 'middle', showarrow: false,
    text: '<b>' + xAxisTitle + '</b>',
    font: {family: 'Liberation Sans, Arial, sans-serif', size: 12, color: '#000'}
  });
  layout.annotations.push({
    xref: 'paper', yref: 'paper', x: px(yTitlePos[i][0]), y: py(yTitlePos[i][1]),
    xanchor: 'center', yanchor: 'middle', showarrow: false, textangle: -90,
    text: '<b>' + yAxisTitle + '</b>',
    font: {family: 'Liberation Sans, Arial, sans-serif', size: 12, color: '#000'}
  });
  layout.annotations.push({
    xref: 'paper', yref: 'paper', x: px(r2Pos[i][0]), y: py(r2Pos[i][1]),
    xanchor: 'right', yanchor: 'middle', showarrow: false,
    text: '<span style="font-family:Liberation Serif,serif;font-style:italic;color:#555">R</span><sup>2</sup> = ' + r2Values[i],
    font: {family: 'Liberation Sans, Arial, sans-serif', size: 12, color: '#000'}
  });
});

Plotly.newPlot('chart', traces, layout, {displayModeBar: false, staticPlot: true});
</script>
</body>
</html>
